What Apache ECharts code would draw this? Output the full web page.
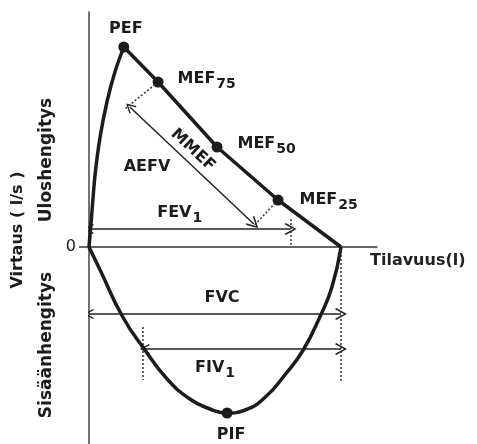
<!DOCTYPE html>
<html>
<head>
<meta charset="utf-8">
<script src="https://cdn.jsdelivr.net/npm/echarts@6/dist/echarts.min.js"></script>
<style>
  html, body { margin: 0; padding: 0; background: #fff; }
  #chart { width: 477px; height: 444px; }
</style>
</head>
<body>
<div id="chart"></div>
<script>
// tilavuus (l) ja virtaus (l/s), luettu kuvasta
const riseVolume = [0, 0.05, 0.12, 0.22, 0.36, 0.52, 0.69]
const riseFlow   = [0, 1.5, 3.6, 5.5, 7.3, 8.8, 10.0]
const fallVolume = [0.69, 1.37, 2.54, 3.75, 5.0]
const fallFlow   = [10.0, 8.25, 5.0, 2.35, 0]
const inspVolume = [0, 0.22, 0.67, 1.11, 1.55, 2.0, 2.4, 2.74, 3.1, 3.5, 3.9, 4.25, 4.58, 4.82, 5.0]
const inspFlow   = [0, -1.15, -3.5, -5.15, -6.6, -7.6, -8.1, -8.3, -8.15, -7.5, -6.35, -5.15, -3.5, -2.0, 0]

const pointNames  = ['PEF', 'MEF75', 'MEF50', 'MEF25', 'PIF']
const pointVolume = [0.69, 1.37, 2.54, 3.75, 2.74]
const pointFlow   = [10.0, 8.25, 5.0, 2.35, -8.3]

const FVC = 5.0
const FEV1 = 4.0
const FIV1_start = 1.11
const FEV1_level = 0.9
const FVC_level = -3.35
const FIV1_level = -5.1
const MMEF_start = [0.81, 7.0]
const MMEF_end = [3.27, 1.15]

const font = 'DejaVu Sans'
const ink = '#1c1c1c'

const zip = (a, b) => a.map((v, i) => [v, b[i]])

const chart = echarts.init(document.getElementById('chart'))

// avoin nuolenkärki
const chevron = 'path://M5,0 L10,9 L9,10 L5,2.5 L1,10 L0,9 Z'

const pointLabels = {
  PEF:   { position: 'top', distance: 5, offset: [2, 0] },
  MEF75: { position: 'right', distance: 14, offset: [0, -3] },
  MEF50: { position: 'right', distance: 15, offset: [0, -3] },
  MEF25: { position: 'right', distance: 16, offset: [0, 0] },
  PIF:   { position: 'bottom', distance: 8, offset: [4, 0] }
}

const subText = name => {
  const m = name.match(/^([A-Z]+)(\d+)$/)
  return m ? m[1] + '{sub|' + m[2] + '}' : name
}

const richStyle = {
  sub: { fontFamily: font, fontWeight: 'bold', fontSize: 14, color: ink, padding: [10, 0, 0, 1] }
}

const textLabels = [
  { text: 'AEFV', pos: [1.15, 4.0], rotate: 0 },
  { text: 'FEV1', pos: [1.8, 1.7], rotate: 0 },
  { text: 'FVC', pos: [2.64, -2.55], rotate: 0 },
  { text: 'FIV1', pos: [2.5, -6.05], rotate: 0 },
  { text: 'MMEF', pos: [2.06, 4.85], rotate: -43 }
]

const arrowLines = [
  { coords: [[0, FEV1_level], [FEV1, FEV1_level]] },
  { coords: [[0, FVC_level], [FVC, FVC_level]] },
  { coords: [[FIV1_start, FIV1_level], [FVC, FIV1_level]] },
  { coords: [MMEF_start, MMEF_end] }
]

const dottedLines = [
  { coords: [[FEV1, 1.4], [FEV1, 0]] },
  { coords: [[FVC, 0], [FVC, -6.7]] },
  { coords: [[1.07, -4.0], [1.07, -6.65]] },
  { coords: [[pointVolume[1], pointFlow[1]], [0.71, 6.9]] },
  { coords: [[pointVolume[3], pointFlow[3]], [3.25, 1.0]] }
]

const option = {
  animation: false,
  grid: { left: 89, right: 100, top: 12, bottom: 0 },
  xAxis: {
    type: 'value', min: 0, max: 5.714,
    axisLine: { onZero: true, lineStyle: { color: '#333', width: 1.5 } },
    axisTick: { show: false }, axisLabel: { show: false }, splitLine: { show: false }
  },
  yAxis: {
    type: 'value', min: -9.85, max: 11.75,
    axisLine: { show: true, lineStyle: { color: '#444', width: 1.5 } },
    axisTick: { show: true, customValues: [0], length: 10, lineStyle: { color: '#333', width: 1.5 } },
    axisLabel: { customValues: [0], margin: 13, fontFamily: font, fontSize: 16, color: ink },
    splitLine: { show: false }
  },
  graphic: [
    { type: 'text', left: 370, top: 253, style: { text: 'Tilavuus(l)', font: 'bold 16px ' + font, fill: '#222' } },
    { type: 'text', x: 18, y: 230, rotation: Math.PI / 2, style: { text: 'Virtaus ( l/s )', font: 'bold 16px ' + font, fill: ink, align: 'center', verticalAlign: 'middle' } },
    { type: 'text', x: 47, y: 160, rotation: Math.PI / 2, style: { text: 'Uloshengitys', font: 'bold 17px ' + font, fill: ink, align: 'center', verticalAlign: 'middle' } },
    { type: 'text', x: 47, y: 345, rotation: Math.PI / 2, style: { text: 'Sisäänhengitys', font: 'bold 17px ' + font, fill: ink, align: 'center', verticalAlign: 'middle' } }
  ],
  series: [
    {
      type: 'line', data: zip(riseVolume, riseFlow), smooth: 0.3, symbol: 'none',
      lineStyle: { color: ink, width: 3.5 }
    },
    {
      type: 'line', data: zip(fallVolume, fallFlow), symbol: 'none',
      lineStyle: { color: ink, width: 3.5 }
    },
    {
      type: 'line', data: zip(inspVolume, inspFlow), smooth: 0.5, symbol: 'none',
      lineStyle: { color: ink, width: 3.5 }
    },
    {
      type: 'lines', coordinateSystem: 'cartesian2d', polyline: false,
      symbol: [chevron, chevron], symbolSize: [10, 12],
      lineStyle: { color: '#222', width: 1.5, opacity: 1 },
      data: arrowLines, z: 3
    },
    {
      type: 'lines', coordinateSystem: 'cartesian2d', polyline: false,
      symbol: 'none',
      lineStyle: { color: '#333', width: 1.5, type: [2, 2], opacity: 1 },
      data: dottedLines, z: 3
    },
    {
      type: 'scatter', symbolSize: 11, z: 5,
      itemStyle: { color: ink, opacity: 1 },
      data: pointNames.map((n, i) => ({
        value: [pointVolume[i], pointFlow[i]],
        label: Object.assign({
          show: true, formatter: subText(n),
          fontFamily: font, fontWeight: 'bold', fontSize: 16, color: ink,
          rich: richStyle
        }, pointLabels[n])
      }))
    },
    {
      type: 'scatter', symbolSize: 0, z: 5, silent: true,
      itemStyle: { opacity: 1 },
      data: textLabels.map(t => ({
        value: t.pos,
        label: {
          show: true, position: 'inside', rotate: t.rotate, formatter: subText(t.text),
          fontFamily: font, fontWeight: 'bold', fontSize: 16, color: ink,
          rich: richStyle
        }
      }))
    }
  ]
}

chart.setOption(option)
window.addEventListener('resize', () => chart.resize())
</script>
</body>
</html>
